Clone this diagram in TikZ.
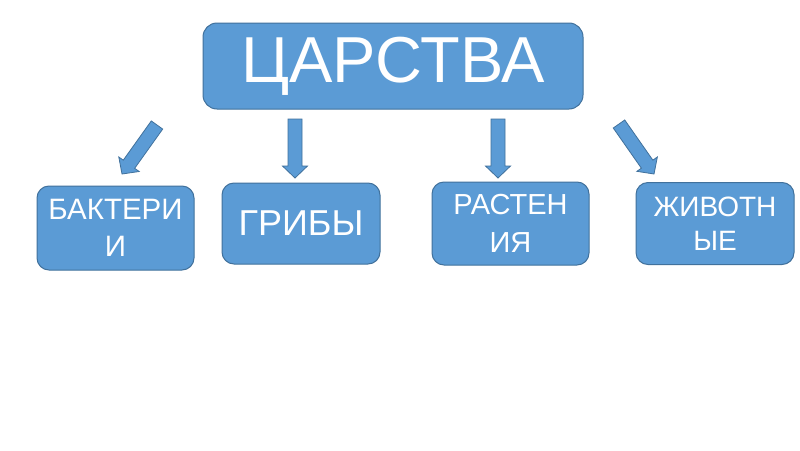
\documentclass[tikz,border=0pt]{standalone}
\usepackage{fontspec}
\setmainfont{Liberation Sans}
\usetikzlibrary{calc}
\definecolor{boxfill}{HTML}{5B9BD5}
\definecolor{boxline}{HTML}{41719C}
\tikzset{
  kbox/.style={draw=boxline, fill=boxfill, line width=1pt, rounded corners=12pt, text=white, align=center, inner sep=0pt},
  barrow/.style={draw=boxline, fill=boxfill, line width=0.8pt, line join=miter}
}
\newcommand\blockarrow[2]{%
  \coordinate (#1h) at ($(#2)!12pt!(#1)$);
  \draw[barrow] ($(#1)!7pt!90:(#2)$) -- ($(#1h)!7pt!90:(#2)$) -- ($(#1h)!12.5pt!90:(#2)$) -- (#2)
    -- ($(#1h)!12.5pt!-90:(#2)$) -- ($(#1h)!7pt!-90:(#2)$) -- ($(#1)!7pt!-90:(#2)$) -- cycle;
}
\begin{document}
\begin{tikzpicture}[x=1pt,y=-1pt]
\useasboundingbox (0,0) rectangle (800,450);
\fill[white] (0,0) rectangle (800,450);
\node[kbox, rounded corners=14pt, minimum width=380pt, minimum height=86pt, font=\fontsize{65}{70}\selectfont] (top) at (393,66) {ЦАРСТВА};
\node[kbox, minimum width=157pt, minimum height=84pt, font=\fontsize{29.5}{37}\selectfont] (bac) at (115.5,228) {БАКТЕРИ\\И};
\node[kbox, minimum width=158pt, minimum height=81pt, font=\fontsize{36}{40}\selectfont] (gri) at (301,223.5) {ГРИБЫ};
\node[kbox, minimum width=157pt, minimum height=83pt, font=\fontsize{29}{38}\selectfont] (ras) at (510.5,223.5) {РАСТЕН\\ИЯ};
\node[kbox, minimum width=158pt, minimum height=82pt, font=\fontsize{28}{34}\selectfont] (ziv) at (715,223.5) {ЖИВОТН\\ЫЕ};
\coordinate (a1s) at (157,125); \coordinate (a1e) at (122,174);
\coordinate (a2s) at (295,119); \coordinate (a2e) at (295,178);
\coordinate (a3s) at (498,119); \coordinate (a3e) at (498,178);
\coordinate (a4s) at (619,124); \coordinate (a4e) at (654,174);
\blockarrow{a1s}{a1e}
\blockarrow{a2s}{a2e}
\blockarrow{a3s}{a3e}
\blockarrow{a4s}{a4e}
\end{tikzpicture}
\end{document}
